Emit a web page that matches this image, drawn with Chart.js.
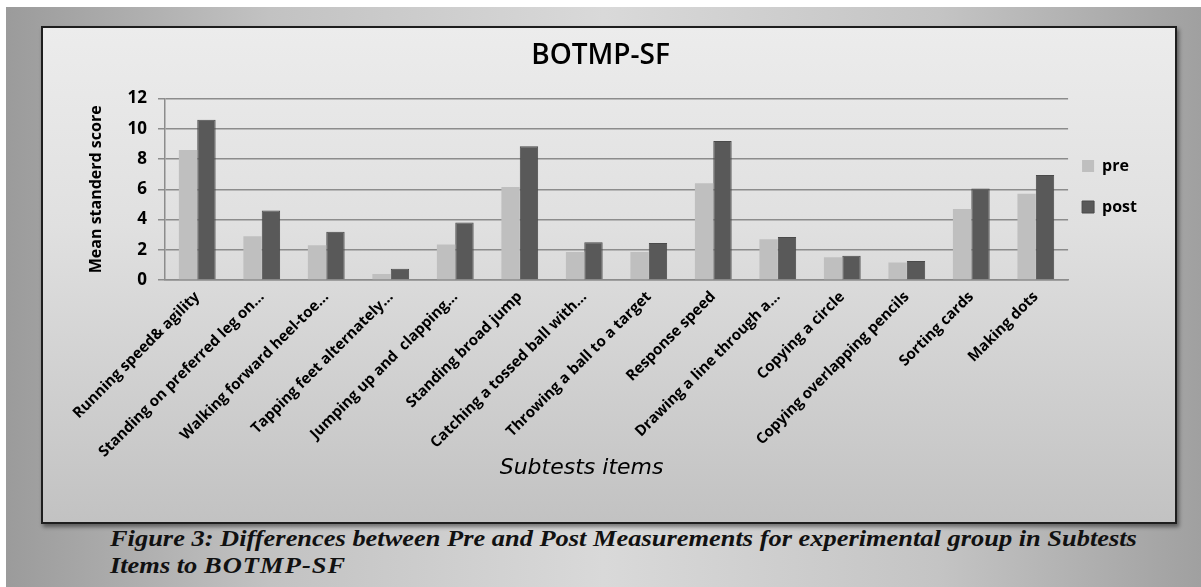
<!DOCTYPE html>
<html>
<head>
<meta charset="utf-8">
<title>BOTMP-SF</title>
<script src="https://cdn.jsdelivr.net/npm/chart.js@4.4.0/dist/chart.umd.min.js"></script>
<style>
html, body { margin: 0; padding: 0; width: 1201px; height: 587px; overflow: hidden; background: #fff; }
#bg {
    position: absolute; left: 6px; top: 7px; width: 1195px; height: 580px;
    background: linear-gradient(90deg, #9b9b9b 0%, #c2c2c2 22%, #d9d9d9 50%, #c4c4c4 78%, #a0a0a0 100%);
}
#frame {
    position: absolute; left: 41px; top: 26px; width: 1136px; height: 498px;
    box-sizing: border-box; border: 2px solid #1e1e1e;
    background: linear-gradient(180deg, #ececec 0%, #e0e0e0 40%, #c2c2c2 100%);
    box-shadow: 2px 3px 4px rgba(0, 0, 0, 0.45);
}
#wrap { position: absolute; left: 43px; top: 28px; width: 1132px; height: 494px; }
.cap {
    position: absolute; left: 110px;
    font-family: "Liberation Serif", serif; font-weight: bold; font-style: italic;
    font-size: 24px; line-height: 27px; white-space: nowrap; color: #111;
    transform-origin: 0 0;
}
</style>
</head>
<body>
<div id="bg"></div>
<div id="frame"></div>
<div id="wrap"><canvas id="botmp"></canvas></div>
<div class="cap" id="cap1" style="top:525px">Figure 3: Differences between Pre and Post Measurements for experimental group in Subtests</div>
<div class="cap" id="cap2" style="top:552px">Items to <span style="letter-spacing:1px">BOTMP-SF</span></div>

<script>
// subtest items (x axis)
const categories = [
    'Running speed& agility',
    'Standing on preferred leg on\u2026',
    'Walking forward heel-toe\u2026',
    'Tapping feet alternately\u2026',
    'Jumping up and  clapping\u2026',
    'Standing broad jump',
    'Catching a tossed ball with\u2026',
    'Throwing a ball to a target',
    'Response speed',
    'Drawing a line through a\u2026',
    'Copying a circle',
    'Copying overlapping pencils',
    'Sorting cards',
    'Making dots'
];

// mean standard scores
const preScores  = [8.6, 2.9, 2.3, 0.4, 2.35, 6.15, 1.85, 1.85, 6.4, 2.7, 1.5, 1.15, 4.7, 5.7];
const postScores = [10.6, 4.6, 3.2, 0.75, 3.8, 8.85, 2.5, 2.45, 9.2, 2.85, 1.6, 1.25, 6.05, 6.95];

// y axis range
const yMin = 0;
const yMax = 12;
const yStep = 2;

Chart.defaults.font.family = "'Open Sans', sans-serif";
Chart.defaults.color = '#000';

// move the legend next to the plot, the way the original sits
const legendNudge = {
    id: 'legendNudge',
    afterLayout(chart) {
        const lg = chart.legend;
        if (!lg) return;
        const pad = lg.options.labels.padding;
        const dx = chart.chartArea.right + 14 - (lg.left + pad);
        const dy = 130 - (lg.top + pad);
        lg.left += dx; lg.right += dx;
        lg.top += dy; lg.bottom += dy;
    }
};

const gridGrey = '#8c8c8c';

const chart = new Chart(document.getElementById('botmp'), {
    type: 'bar',
    data: {
        labels: categories,
        datasets: [
            { label: 'pre', data: preScores, backgroundColor: '#bfbfbf', borderWidth: 0 },
            { label: 'post', data: postScores, backgroundColor: '#595959', borderColor: '#4a4a4a', borderWidth: 1 }
        ]
    },
    options: {
        responsive: true,
        maintainAspectRatio: false,
        animation: false,
        categoryPercentage: 0.57,
        barPercentage: 1.0,
        layout: { padding: { left: 0, right: 17, top: 0, bottom: 39 } },
        plugins: {
            title: {
                display: true,
                text: 'BOTMP-SF',
                color: '#000',
                font: { size: 28, weight: '600' },
                padding: { top: 11, bottom: 26 }
            },
            legend: {
                position: 'right',
                align: 'start',
                labels: {
                    boxWidth: 12,
                    boxHeight: 12,
                    padding: 25,
                    color: '#000',
                    font: { size: 16, weight: 'bold' }
                }
            },
            tooltip: { enabled: false }
        },
        scales: {
            x: {
                grid: { display: false, drawTicks: false },
                border: { display: true, color: gridGrey, width: 1.5 },
                ticks: {
                    autoSkip: false,
                    minRotation: 45,
                    maxRotation: 45,
                    padding: 8,
                    color: '#000',
                    font: { size: 15, weight: 'bold' }
                },
                title: {
                    display: true,
                    // trailing spaces pull the centred title left, as in the original
                    text: 'Subtests items          ',
                    color: '#000',
                    font: { family: "'DejaVu Sans', sans-serif", size: 22, style: 'italic' },
                    padding: { top: 0, bottom: 2 }
                },
                afterFit(scale) { scale.height = 203; }
            },
            y: {
                min: yMin,
                max: yMax,
                ticks: {
                    stepSize: yStep,
                    padding: 11,
                    color: '#000',
                    font: { size: 17, weight: 'bold' }
                },
                grid: { color: gridGrey, lineWidth: 1.5, tickLength: 7 },
                border: { color: gridGrey, width: 1.5 },
                title: {
                    display: true,
                    text: 'Mean standerd score',
                    color: '#000',
                    font: { size: 16, weight: 'bold' },
                    padding: { top: 44, bottom: 0 }
                },
                afterFit(scale) { scale.width = 122; }
            }
        }
    },
    plugins: [legendNudge]
});

// squeeze the caption to the width it has in the figure
function fitCaption() {
    const c1 = document.getElementById('cap1');
    const c2 = document.getElementById('cap2');
    const s = 1027 / c1.offsetWidth;
    c1.style.transform = 'scaleX(' + s + ')';
    c2.style.transform = 'scaleX(' + s + ')';
}
fitCaption();
if (document.fonts && document.fonts.ready) {
    document.fonts.ready.then(() => { fitCaption(); chart.update('none'); });
}
</script>
</body>
</html>
